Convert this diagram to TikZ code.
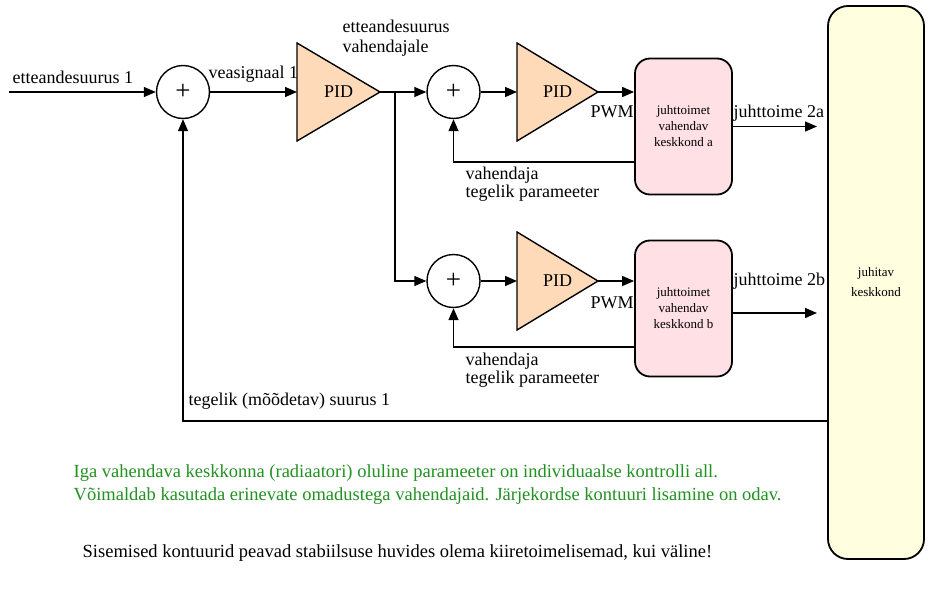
\documentclass[tikz,border=0pt]{standalone}
\usepackage{fontspec}
\setmainfont{Liberation Serif}
\usetikzlibrary{arrows.meta,calc}
\definecolor{peach}{RGB}{255,218,185}
\definecolor{pinkbox}{RGB}{255,224,228}
\definecolor{yellowbox}{RGB}{255,254,222}
\definecolor{greentext}{RGB}{34,145,34}
\begin{document}
\begin{tikzpicture}[x=1pt,y=-1pt,
  line width=1.4pt,
  conn/.style={line width=1.4pt,-{Triangle[length=12pt,width=10pt]}},
  plain/.style={line width=1.4pt},
  sumnode/.style={circle,draw,line width=1.4pt,minimum size=53pt,inner sep=0pt,font=\fontsize{27}{27}\selectfont},
  lbl/.style={font=\fontsize{18}{20}\selectfont,inner sep=0pt,anchor=base west,align=left},
  lbltwo/.style={font=\fontsize{18}{18}\selectfont,inner sep=0pt,anchor=base west,align=left},
  pidtri/.style={draw,fill=peach,line width=1.4pt,line join=miter},
  pidtext/.style={font=\fontsize{18}{18}\selectfont,inner sep=0pt},
  envbox/.style={draw,fill=pinkbox,rounded corners=15pt,line width=1.8pt,minimum width=97pt,minimum height=136pt,inner sep=0pt,align=center,font=\fontsize{13}{16}\selectfont},
  bigbox/.style={draw,fill=yellowbox,rounded corners=20pt,line width=1.8pt,minimum width=96pt,minimum height=553pt,inner sep=0pt,align=center,font=\fontsize{13}{20}\selectfont},
  note/.style={font=\fontsize{18.5}{23}\selectfont,inner sep=0pt,anchor=base west,align=left}
]
\useasboundingbox[fill=white] (0,0) rectangle (935,589);

% summing junctions
\node[sumnode] (s1) at (183,92) {+};
\node[sumnode] (s2) at (453.5,92) {+};
\node[sumnode] (s3) at (453.5,281) {+};

% PID triangles
\draw[pidtri] (297,43) -- (380,92) -- (297,141) -- cycle;
\coordinate (p1in) at (297,92);
\coordinate (p1out) at (380,92);
\node[pidtext] (pid1) at (338.5,92) {PID};

\draw[pidtri] (517,43) -- (598,92) -- (517,141) -- cycle;
\coordinate (p2in) at (517,92);
\coordinate (p2out) at (598,92);
\node[pidtext] (pid2) at (557.5,92) {PID};

\draw[pidtri] (517,232) -- (598,281) -- (517,330) -- cycle;
\coordinate (p3in) at (517,281);
\coordinate (p3out) at (598,281);
\node[pidtext] (pid3) at (557.5,281) {PID};

% environment boxes
\node[envbox] (ba) at (683.5,126.5) {juhttoimet\\vahendav\\keskkond a};
\node[envbox] (bb) at (683.5,308.5) {juhttoimet\\vahendav\\keskkond b};
\node[bigbox] (big) at (876,282.5) {juhitav\\keskkond};

% coordinates for free ends
\coordinate (in) at (9,92);
\coordinate (br) at (395,92);
\coordinate (oa) at (817,126.5);
\coordinate (ob) at (817,313);
\coordinate (fa) at (635,162);
\coordinate (fb) at (635,347);
\coordinate (fm) at (828,421);

% connectors
\draw[conn] (in) -- (s1);
\draw[conn] (s1) -- (p1in);
\draw[plain] (p1out) -- (br);
\draw[conn] (br) -- (s2);
\draw[conn] (br) |- (s3);
\draw[conn] (s2) -- (p2in);
\draw[conn] (s3) -- (p3in);
\draw[conn] (p2out) -- (p2out -| ba.west);
\draw[conn] (p3out) -- (p3out -| bb.west);
\draw[conn] (ba.east) -- (oa);
\draw[conn] (bb.east |- ob) -- (ob);
\draw[conn] (fa) -| (s2.south);
\draw[conn] (fb) -| (s3.south);
\draw[conn] (fm) -| (s1.south);

% labels
\node[lbl] (l1) at (12,83) {etteandesuurus 1};
\node[lbl] (l2) at (208,78) {veasignaal 1};
\node[lbl] (l3) at (342,52) {etteandesuurus\\vahendajale};
\node[lbl] (l4) at (590,117) {PWM};
\node[lbl] (l5) at (590,308) {PWM};
\node[lbl] (l6) at (733,117) {juhttoime 2a};
\node[lbl] (l7) at (733,285) {juhttoime 2b};
\node[lbltwo] (l8) at (465,197) {vahendaja\\tegelik parameeter};
\node[lbltwo] (l9) at (465,383) {vahendaja\\tegelik parameeter};
\node[lbl] (l10) at (188,405) {tegelik (mõõdetav) suurus 1};

\node[note,text=greentext] (n1) at (73,500) {Iga vahendava keskkonna (radiaatori) oluline parameeter on individuaalse kontrolli all.\\Võimaldab kasutada erinevate omadustega vahendajaid. Järjekordse kontuuri lisamine on odav.};
\node[note] (n2) at (82,557) {Sisemised kontuurid peavad stabiilsuse huvides olema kiiretoimelisemad, kui väline!};
\end{tikzpicture}
\end{document}
